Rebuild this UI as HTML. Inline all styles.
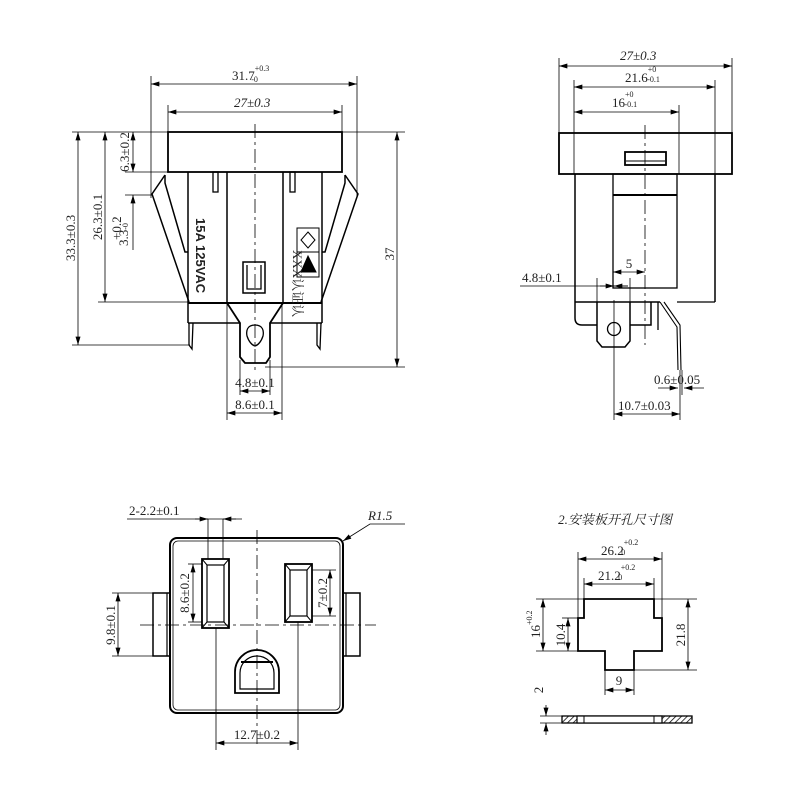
<!DOCTYPE html>
<html><head><meta charset="utf-8"><style>
html,body{margin:0;padding:0;background:#fff}
svg{display:block}
text{font-family:"Liberation Serif","Noto Serif CJK SC",serif;fill:#222;font-size:13px}
</style></head><body>
<svg width="800" height="800" viewBox="0 0 800 800" xmlns="http://www.w3.org/2000/svg">
<defs>
<marker id="a" viewBox="0 0 10 6" refX="10" refY="3" markerWidth="9" markerHeight="5" orient="auto-start-reverse" markerUnits="userSpaceOnUse"><path d="M0,0L10,3L0,6z" fill="#000"/></marker>
<pattern id="h" width="4" height="4" patternUnits="userSpaceOnUse" patternTransform="rotate(45)"><rect width="4" height="4" fill="#fff"/><line x1="0" y1="0" x2="0" y2="4" stroke="#000" stroke-width="1.5"/></pattern>
</defs>
<g stroke="#000" fill="none" stroke-width="1">
<rect x="168" y="132" width="174" height="40" stroke-width="1.8"/>
<line x1="255" y1="124" x2="255" y2="372" stroke-dasharray="14,4,3,4" stroke-width="0.8"/>
<line x1="188" y1="172" x2="188" y2="303" stroke-width="1.5"/>
<line x1="227" y1="172" x2="227" y2="303" stroke-width="1.5"/>
<line x1="283" y1="172" x2="283" y2="303" stroke-width="1.5"/>
<line x1="322" y1="172" x2="322" y2="303" stroke-width="1.5"/>
<line x1="188" y1="303" x2="322" y2="303" stroke-width="2"/>
<path d="M165,175L152,194L189,302" stroke-width="1.5"/>
<path d="M165,175L165,183L185,252L188,252" stroke-width="1.5"/>
<path d="M345,175L358,194L321,302" stroke-width="1.5"/>
<path d="M345,175L345,183L325,252L322,252" stroke-width="1.5"/>
<rect x="213" y="172" width="5" height="20" stroke-width="1.3"/>
<rect x="290" y="172" width="5" height="20" stroke-width="1.3"/>
<line x1="188" y1="303" x2="188" y2="323" stroke-width="1.5"/>
<line x1="322" y1="303" x2="322" y2="323" stroke-width="1.5"/>
<line x1="188" y1="323" x2="240" y2="323" stroke-width="1.5"/>
<line x1="270" y1="323" x2="322" y2="323" stroke-width="1.5"/>
<path d="M189,323L189,345L192,349L193,323" stroke-width="1.3"/>
<path d="M317,323L317,345L320,349L321,323" stroke-width="1.3"/>
<path d="M227,303L240,323L240,357L245,363L266,363L270,357L270,323L283,303" stroke-width="1.8"/>
<path d="M255,325C247,325 246,331 247,336C249,342 252,345 255,346C258,345 261,342 263,336C264,331 263,325 255,325Z" stroke-width="1.3"/>
<rect x="243" y="262" width="22" height="31" stroke-width="1.5"/>
<path d="M247,265V289H261V265" stroke-width="1.3"/>
<rect x="297" y="228" width="22" height="49" stroke-width="1"/>
<line x1="297" y1="252" x2="319" y2="252"/>
<path d="M308,232L315,240L308,248L301,240Z"/>
<path d="M301,272L308,256L316,272Z" fill="#000"/>
<line x1="151" y1="76" x2="151" y2="198" stroke-width="0.8"/>
<line x1="357" y1="76" x2="357" y2="198" stroke-width="0.8"/>
<line x1="151" y1="84" x2="357" y2="84" marker-start="url(#a)" marker-end="url(#a)" stroke-width="0.8"/>
<line x1="168" y1="105" x2="168" y2="132" stroke-width="0.8"/>
<line x1="342" y1="105" x2="342" y2="132" stroke-width="0.8"/>
<line x1="168" y1="112" x2="342" y2="112" marker-start="url(#a)" marker-end="url(#a)" stroke-width="0.8"/>
<line x1="72" y1="132" x2="405" y2="132" stroke-width="0.8"/>
<line x1="72" y1="345" x2="190" y2="345" stroke-width="0.8"/>
<line x1="98" y1="302" x2="188" y2="302" stroke-width="0.8"/>
<line x1="125" y1="172" x2="168" y2="172" stroke-width="0.8"/>
<line x1="125" y1="195" x2="152" y2="195" stroke-width="0.8"/>
<line x1="265" y1="367" x2="405" y2="367" stroke-width="0.8"/>
<line x1="78" y1="132" x2="78" y2="345" marker-start="url(#a)" marker-end="url(#a)" stroke-width="0.8"/>
<line x1="105" y1="132" x2="105" y2="302" marker-start="url(#a)" marker-end="url(#a)" stroke-width="0.8"/>
<line x1="133" y1="132" x2="133" y2="172" marker-start="url(#a)" marker-end="url(#a)" stroke-width="0.8"/>
<line x1="133" y1="195" x2="133" y2="250" marker-start="url(#a)" stroke-width="0.8"/>
<line x1="397" y1="132" x2="397" y2="367" marker-start="url(#a)" marker-end="url(#a)" stroke-width="0.8"/>
<line x1="227" y1="303" x2="227" y2="420" stroke-width="0.8"/>
<line x1="282" y1="303" x2="282" y2="420" stroke-width="0.8"/>
<line x1="240" y1="360" x2="240" y2="395" stroke-width="0.8"/>
<line x1="270" y1="360" x2="270" y2="395" stroke-width="0.8"/>
<line x1="240" y1="391" x2="270" y2="391" marker-start="url(#a)" marker-end="url(#a)" stroke-width="0.8"/>
<line x1="227" y1="413" x2="282" y2="413" marker-start="url(#a)" marker-end="url(#a)" stroke-width="0.8"/>

<rect x="559" y="133" width="173" height="41" stroke-width="1.8"/>
<rect x="625" y="152" width="41" height="13" stroke-width="1.8"/>
<line x1="626" y1="161" x2="665" y2="161"/>
<line x1="645" y1="125" x2="645" y2="345" stroke-dasharray="14,4,3,4" stroke-width="0.8"/>
<line x1="575" y1="174" x2="575" y2="302" stroke-width="1.5"/>
<line x1="715" y1="174" x2="715" y2="302" stroke-width="1.5"/>
<rect x="613" y="174" width="64" height="114" stroke-width="1.3"/>
<line x1="613" y1="195" x2="677" y2="195" stroke-width="2"/>
<line x1="677" y1="302" x2="715" y2="302" stroke-width="1.3"/>
<line x1="575" y1="302" x2="660" y2="302" stroke-width="1.5"/>
<path d="M575,302V318Q575,325 582,325H597" stroke-width="1.5"/>
<path d="M630,325H651V302" stroke-width="1.5"/>
<line x1="658" y1="302" x2="658" y2="330" stroke-width="1.3"/>
<path d="M597,302V341L602,347H625L630,341V302" stroke-width="1.5"/>
<circle cx="614" cy="329" r="6.5" stroke-width="1.3"/>
<path d="M660,302L677,327L678,370M664,302L680,325L681,370" stroke-width="1.1"/>
<line x1="559" y1="58" x2="559" y2="133" stroke-width="0.8"/>
<line x1="732" y1="58" x2="732" y2="133" stroke-width="0.8"/>
<line x1="559" y1="66" x2="732" y2="66" marker-start="url(#a)" marker-end="url(#a)" stroke-width="0.8"/>
<line x1="574" y1="80" x2="574" y2="174" stroke-width="0.8"/>
<line x1="715" y1="80" x2="715" y2="174" stroke-width="0.8"/>
<line x1="574" y1="87" x2="715" y2="87" marker-start="url(#a)" marker-end="url(#a)" stroke-width="0.8"/>
<line x1="679" y1="105" x2="679" y2="174" stroke-width="0.8"/>
<line x1="574" y1="112" x2="679" y2="112" marker-start="url(#a)" marker-end="url(#a)" stroke-width="0.8"/>
<line x1="613" y1="272" x2="645" y2="272" marker-start="url(#a)" marker-end="url(#a)" stroke-width="0.8"/>
<line x1="597" y1="278" x2="597" y2="302" stroke-width="0.8"/>
<line x1="630" y1="278" x2="630" y2="302" stroke-width="0.8"/>
<line x1="520" y1="286" x2="628" y2="286" stroke-width="0.8"/>
<line x1="600" y1="286" x2="614" y2="286" marker-end="url(#a)" stroke-width="0.8"/>
<line x1="614" y1="286" x2="628" y2="286" marker-start="url(#a)" stroke-width="0.8"/>
<line x1="614" y1="300" x2="614" y2="420" stroke-width="0.8"/>
<line x1="680" y1="370" x2="680" y2="420" stroke-width="0.8"/>
<line x1="682" y1="370" x2="682" y2="395" stroke-width="0.8"/>
<line x1="658" y1="388" x2="678" y2="388" marker-end="url(#a)" stroke-width="0.8"/>
<line x1="684" y1="388" x2="704" y2="388" marker-start="url(#a)" stroke-width="0.8"/>
<line x1="614" y1="414" x2="680" y2="414" marker-start="url(#a)" marker-end="url(#a)" stroke-width="0.8"/>

<rect x="170" y="538" width="173" height="175" rx="7" stroke-width="2"/>
<rect x="173" y="541" width="167" height="169" rx="5" stroke-width="0.8"/>
<rect x="153" y="593" width="17" height="63" stroke-width="1.5"/>
<rect x="343" y="593" width="17" height="63" stroke-width="1.5"/>
<line x1="167" y1="593" x2="167" y2="656" stroke-width="1.2"/>
<line x1="346" y1="593" x2="346" y2="656" stroke-width="1.2"/>
<rect x="202" y="559" width="27" height="69" stroke-width="1.8"/>
<rect x="207" y="565" width="17" height="57" stroke-width="1.2"/>
<path d="M202,559L207,565M229,559L224,565M202,628L207,622M229,628L224,622"/>
<rect x="285" y="564" width="27" height="58" stroke-width="1.8"/>
<rect x="290" y="570" width="17" height="46" stroke-width="1.2"/>
<path d="M285,564L290,570M312,564L307,570M285,622L290,616M312,622L307,616"/>
<path d="M235,693V672A22,22 0 0 1 279,672V693Z" stroke-width="1.8"/>
<path d="M240,689V673A17,17 0 0 1 274,673V689Z" stroke-width="1.2"/>
<line x1="241" y1="662" x2="273" y2="662" stroke-width="2"/>
<line x1="140" y1="625" x2="376" y2="625" stroke-dasharray="14,4,3,4" stroke-width="0.8"/>
<line x1="257" y1="530" x2="257" y2="748" stroke-dasharray="14,4,3,4" stroke-width="0.8"/>
<line x1="127" y1="519" x2="242" y2="519" stroke-width="0.8"/>
<line x1="208" y1="519" x2="208" y2="559" stroke-width="0.8"/>
<line x1="223" y1="519" x2="223" y2="559" stroke-width="0.8"/>
<line x1="195" y1="519" x2="208" y2="519" marker-end="url(#a)" stroke-width="0.8"/>
<line x1="236" y1="519" x2="223" y2="519" marker-end="url(#a)" stroke-width="0.8"/>
<path d="M343,541L370,524H405" stroke-width="0.8" marker-start="url(#a)"/>
<line x1="112" y1="593" x2="153" y2="593" stroke-width="0.8"/>
<line x1="112" y1="656" x2="153" y2="656" stroke-width="0.8"/>
<line x1="118" y1="593" x2="118" y2="656" marker-start="url(#a)" marker-end="url(#a)" stroke-width="0.8"/>
<line x1="188" y1="564" x2="202" y2="564" stroke-width="0.8"/>
<line x1="188" y1="622" x2="202" y2="622" stroke-width="0.8"/>
<line x1="193" y1="564" x2="193" y2="622" marker-start="url(#a)" marker-end="url(#a)" stroke-width="0.8"/>
<line x1="312" y1="570" x2="336" y2="570" stroke-width="0.8"/>
<line x1="312" y1="616" x2="336" y2="616" stroke-width="0.8"/>
<line x1="330" y1="570" x2="330" y2="616" marker-start="url(#a)" marker-end="url(#a)" stroke-width="0.8"/>
<line x1="216" y1="628" x2="216" y2="750" stroke-width="0.8"/>
<line x1="298" y1="622" x2="298" y2="750" stroke-width="0.8"/>
<line x1="216" y1="743" x2="298" y2="743" marker-start="url(#a)" marker-end="url(#a)" stroke-width="0.8"/>

<path d="M584,599H654V618H662V651H634V670H605V651H578V618H584Z" stroke-width="1.8"/>
<line x1="578" y1="552" x2="578" y2="618" stroke-width="0.8"/>
<line x1="662" y1="552" x2="662" y2="618" stroke-width="0.8"/>
<line x1="578" y1="559" x2="662" y2="559" marker-start="url(#a)" marker-end="url(#a)" stroke-width="0.8"/>
<line x1="584" y1="578" x2="584" y2="599" stroke-width="0.8"/>
<line x1="654" y1="578" x2="654" y2="599" stroke-width="0.8"/>
<line x1="584" y1="584" x2="654" y2="584" marker-start="url(#a)" marker-end="url(#a)" stroke-width="0.8"/>
<line x1="536" y1="599" x2="697" y2="599" stroke-width="0.8"/>
<line x1="536" y1="651" x2="578" y2="651" stroke-width="0.8"/>
<line x1="562" y1="618" x2="578" y2="618" stroke-width="0.8"/>
<line x1="634" y1="670" x2="697" y2="670" stroke-width="0.8"/>
<line x1="543" y1="599" x2="543" y2="651" marker-start="url(#a)" marker-end="url(#a)" stroke-width="0.8"/>
<line x1="568" y1="618" x2="568" y2="651" marker-start="url(#a)" marker-end="url(#a)" stroke-width="0.8"/>
<line x1="688" y1="599" x2="688" y2="670" marker-start="url(#a)" marker-end="url(#a)" stroke-width="0.8"/>
<line x1="605" y1="670" x2="605" y2="695" stroke-width="0.8"/>
<line x1="634" y1="670" x2="634" y2="695" stroke-width="0.8"/>
<line x1="605" y1="690" x2="634" y2="690" marker-start="url(#a)" marker-end="url(#a)" stroke-width="0.8"/>
<rect x="562" y="716" width="130" height="7" fill="url(#h)" stroke-width="1.3"/>
<rect x="577" y="716" width="85" height="7" fill="#fff" stroke-width="1.2"/>
<line x1="584" y1="716" x2="584" y2="723"/><line x1="654" y1="716" x2="654" y2="723"/>
<line x1="540" y1="716" x2="562" y2="716" stroke-width="0.8"/>
<line x1="540" y1="723" x2="562" y2="723" stroke-width="0.8"/>
<line x1="546" y1="705" x2="546" y2="716" marker-end="url(#a)" stroke-width="0.8"/>
<line x1="546" y1="735" x2="546" y2="723" marker-end="url(#a)" stroke-width="0.8"/>
</g>

<text x="232" y="80" font-size="12">31.7<tspan font-size="8" dy="-9">+0.3</tspan><tspan font-size="8" dx="-18" dy="11">-0</tspan></text>
<text x="234" y="107" font-style="italic" font-size="13">27±0.3</text>
<text transform="translate(75,238) rotate(-90)" text-anchor="middle" font-size="12">33.3±0.3</text>
<text transform="translate(102,217) rotate(-90)" text-anchor="middle" font-size="12">26.3±0.1</text>
<text transform="translate(129,152) rotate(-90)" text-anchor="middle" font-size="11">6.3±0.2</text>
<text transform="translate(128,246) rotate(-90)" font-size="11">3.3<tspan font-size="8">-0</tspan></text>
<text transform="translate(121,240) rotate(-90)" font-size="7">+0.2</text>
<text x="390" y="250" transform="rotate(-90,394,250)" text-anchor="middle" font-size="12">37</text>
<text transform="translate(196,218) rotate(90)" style="font-family:'Liberation Sans',sans-serif;font-weight:bold;font-size:13px">15A 125VAC</text>
<text transform="translate(293,250) rotate(90)" font-size="5">XXX认证认</text>
<text x="255" y="387" text-anchor="middle" font-size="12">4.8±0.1</text>
<text x="255" y="409" text-anchor="middle" font-size="12">8.6±0.1</text>

<text x="620" y="60" font-style="italic" font-size="13">27±0.3</text>
<text x="625" y="82" font-size="12">21.6<tspan font-size="8" dy="-10">+0</tspan><tspan font-size="8" dx="-9" dy="10">-0.1</tspan></text>
<text x="612" y="107" font-size="12">16<tspan font-size="8" dy="-10">+0</tspan><tspan font-size="8" dx="-9" dy="10">-0.1</tspan></text>
<text x="629" y="268" text-anchor="middle" font-size="12">5</text>
<text x="522" y="282" font-size="12">4.8±0.1</text>
<text x="654" y="384" font-size="12">0.6±0.05</text>
<text x="618" y="410" font-size="12">10.7±0.03</text>

<text x="129" y="515" font-size="12">2-2.2±0.1</text>
<text x="368" y="520" font-style="italic" font-size="15">R1.5</text>
<text transform="translate(115,625) rotate(-90)" text-anchor="middle" font-size="12">9.8±0.1</text>
<text transform="translate(189,593) rotate(-90)" text-anchor="middle" font-size="12">8.6±0.2</text>
<text transform="translate(327,593) rotate(-90)" text-anchor="middle" font-size="12">7±0.2</text>
<text x="257" y="739" text-anchor="middle" font-size="12">12.7±0.2</text>

<text x="615" y="524" text-anchor="middle" font-style="italic" font-size="11">2.安装板开孔尺寸图</text>
<text x="601" y="555" font-size="12">26.2<tspan font-size="8" dy="-10">+0.2</tspan><tspan font-size="8" dx="-17" dy="10">0</tspan></text>
<text x="598" y="580" font-size="12">21.2<tspan font-size="8" dy="-10">+0.2</tspan><tspan font-size="8" dx="-17" dy="10">0</tspan></text>
<text transform="translate(540,638) rotate(-90)" font-size="12">16<tspan font-size="8" dy="-8">+0.2</tspan></text>
<text transform="translate(565,635) rotate(-90)" text-anchor="middle" font-size="12">10.4</text>
<text transform="translate(685,635) rotate(-90)" text-anchor="middle" font-size="12">21.8</text>
<text x="619" y="685" text-anchor="middle" font-size="12">9</text>
<text transform="translate(543,690) rotate(-90)" text-anchor="middle" font-size="11">2</text>
</svg>
</body></html>
